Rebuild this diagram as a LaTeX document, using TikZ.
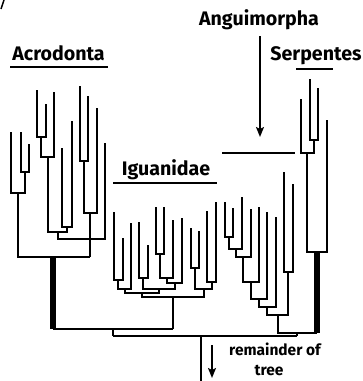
\documentclass[tikz,border=0pt]{standalone}
\usepackage{fontspec}
\setmainfont{Fira Sans}
\usetikzlibrary{arrows.meta}
\begin{document}
\begin{tikzpicture}[x=1pt,y=-1pt,
  br/.style={line width=1.6pt},
  thk/.style={line width=5.5pt},
  mid/.style={line width=2.8pt},
  lbl/.style={font=\bfseries\fontsize{19.6}{22}\selectfont, inner sep=0pt, anchor=base},
  small/.style={font=\bfseries\fontsize{15.5}{17}\selectfont, inner sep=0pt, anchor=base},
  arr/.style={line width=1.6pt,-{Stealth[length=10pt,width=8pt,inset=2pt]}}]
\useasboundingbox (0,0) rectangle (363,381);
% corner mark
\draw[line width=1.5pt] (4,0) -- (1,9);
% labels
\node[lbl] (acro) at (58.5,60) {Acrodonta};
\draw[line width=1.8pt] (10,67) -- (108,67);
\node[lbl] (igua) at (166,175) {Iguanidae};
\draw[line width=1.8pt] (113,183) -- (217,183);
\node[lbl] (angu) at (259,25) {Anguimorpha};
\node[lbl] (serp) at (316,60) {Serpentes};
\draw[line width=1.8pt] (296,69) -- (333,69);
\node[small] (rem) at (275,355) {remainder of};
\node[small] (tree) at (269,375) {tree};
% arrows
\coordinate (a1) at (260,36);
\coordinate (a2) at (260,137);
\draw[arr] (a1) -- (a2);
\coordinate (r1) at (212,345);
\coordinate (r2) at (212,378);
\draw[arr] (r1) -- (r2);
% Anguimorpha stem line
\draw[br] (222,153) -- (295,153);
% ---- Acrodonta ----
\draw[br] (21,132) |- (29,172) -- (29,144);
\draw[br] (11,132) |- (25,193) -- (25,172);
\draw[br] (18,193) |- (90,257);
\draw[br] (37,90) |- (46,137) -- (46,104);
\draw[br] (41,137) |- (54,157) -- (54,92);
\draw[br] (48,157) |- (67,232) -- (67,227);
\draw[br] (62,148) |- (72,227) -- (72,121);
\draw[br] (58,232) |- (105,239) -- (105,143);
\draw[mid] (74,239) -- (90,239);
\draw[line width=2.3pt] (80,86) -- (80,161.6);
\draw[br] (80,161) -- (88,161) -- (88,96);
\draw[br] (84,161) |- (97,213) -- (97,108);
\draw[br] (90,213) -- (90,257);
\draw[thk] (53,256.5) -- (53,329);
% ---- Iguanidae ----
\draw[br] (114,212) |- (123,280) -- (123,238);
\draw[br] (118,280) |- (131,289) -- (131,223);
\draw[br] (139,222) |- (148,278) -- (148,245);
\draw[br] (156,207) |- (164,254) -- (164,207);
\draw[br] (160,254) |- (173,278) -- (173,220);
\draw[br] (167,278) |- (182,283) -- (182,218);
\draw[br] (143,278) |- (175,289) -- (175,283);
\draw[br] (125,289) |- (159,293) -- (159,289);
\draw[br] (191,228) |- (199,268) -- (199,231);
\draw[br] (207,211) |- (216,282) -- (216,202);
\draw[br] (195,268) |- (212,289) -- (212,282);
\draw[br] (142,293) |- (204,297) -- (204,289);
\draw[br] (173,297) -- (173,329);
\draw[br] (53,329) -- (173,329);
\draw[br] (113,329) -- (113,336);
% ---- Anguimorpha ----
\draw[br] (225,202) |- (233,237) -- (233,208);
\draw[br] (229,237) |- (242,249) -- (242,197);
\draw[br] (236,249) |- (251,257) -- (251,209);
\draw[br] (243,257) |- (259,282) -- (259,207);
\draw[br] (251,282) |- (267,299) -- (267,212);
\draw[br] (259,299) |- (276,307) -- (276,217);
\draw[br] (284,172) |- (293,272) -- (293,184);
\draw[br] (267,307) |- (288,315) -- (288,272);
\draw[br] (278,315) |- (317,333);
% ---- Serpentes ----
\draw[br] (310,79) |- (318,140) -- (318,88);
\draw[br] (301,99) |- (314,153) -- (314,140);
\draw[br] (307,153) |- (327,252) -- (327,120);
\draw[thk] (317,252) -- (317,333);
% ---- root ----
\draw[br] (297,333) -- (297,336);
\draw[br] (113,336) -- (297,336);
\draw[br] (201,336) -- (201,381);
\end{tikzpicture}
\end{document}
